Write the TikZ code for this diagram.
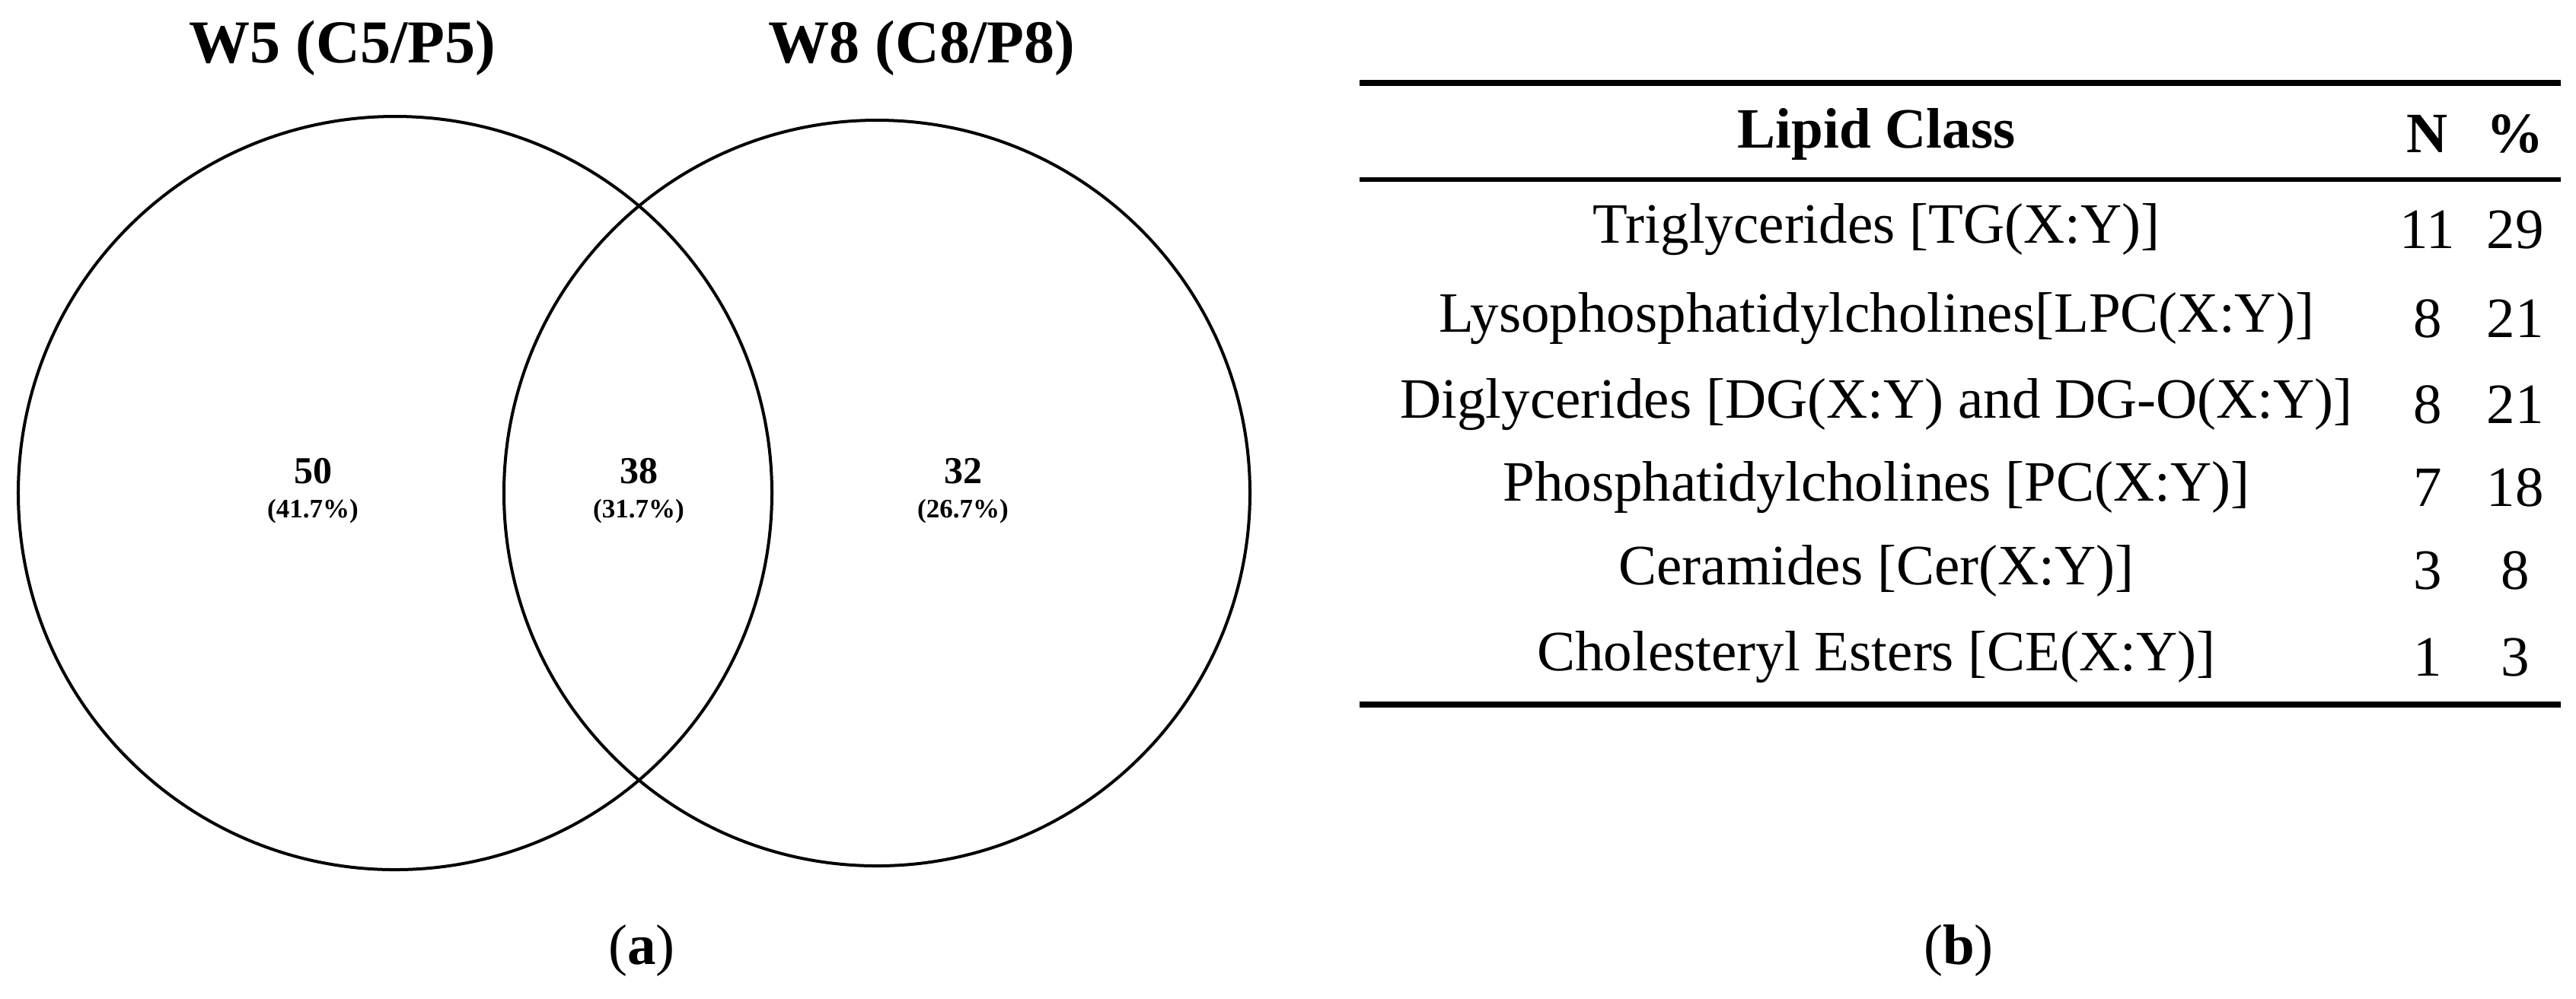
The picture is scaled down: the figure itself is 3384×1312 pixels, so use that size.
\documentclass[tikz,border=0pt]{standalone}
\usepackage{fontspec}
\setmainfont{Liberation Serif}
\begin{document}
\begin{tikzpicture}[x=0.2pt,y=-0.2pt,
  venn/.style={draw=black,line width=0.8pt},
  ttl/.style={font=\fontsize{16}{18}\selectfont\bfseries},
  cnt/.style={font=\fontsize{10}{12}\selectfont\bfseries,align=center},
  row/.style={font=\fontsize{15}{18}\selectfont},
  rulethick/.style={line width=1.6pt}]
\useasboundingbox (0,0) rectangle (3384,1312);
\draw[venn] (519,648) circle[radius=99pt];
\draw[venn] (1152,648) circle[radius=98pt];
\node[ttl] (t1) at (450,63) {W5 (C5/P5)};
\node[ttl] (t2) at (1211,63) {W8 (C8/P8)};
\node[cnt] (n1) at (411,645) {50\\[-3pt]{\fontsize{7}{8}\selectfont (41.7\%)}};
\node[cnt] (n2) at (839,645) {38\\[-3pt]{\fontsize{7}{8}\selectfont (31.7\%)}};
\node[cnt] (n3) at (1265,645) {32\\[-3pt]{\fontsize{7}{8}\selectfont (26.7\%)}};
\node[row] (la) at (843,1249) {(\textbf{a})};
\node[row] (lb) at (2573,1249) {(\textbf{b})};
\draw[rulethick] (1786,109) -- (3364,109);
\draw[line width=1.2pt] (1786,236) -- (3364,236);
\draw[rulethick] (1786,926) -- (3364,926);
\node[row,font=\fontsize{15}{18}\selectfont\bfseries] (h1) at (2465,176) {Lipid Class};
\node[row,font=\fontsize{15}{18}\selectfont\bfseries] (h2) at (3189,176) {N};
\node[row,font=\fontsize{15}{18}\selectfont\bfseries] (h3) at (3304,176) {\%};
\foreach \y/\c/\n/\p [count=\i] in {302/{Triglycerides [TG(X:Y)]}/11/29,
  419/{Lysophosphatidylcholines[LPC(X:Y)]}/8/21,
  532/{Diglycerides [DG(X:Y) and DG-O(X:Y)]}/8/21,
  641/{Phosphatidylcholines [PC(X:Y)]}/7/18,
  750/{Ceramides [Cer(X:Y)]}/3/8,
  864/{Cholesteryl Esters [CE(X:Y)]}/1/3}{
  \node[row] (c\i) at (2465,\y) {\c};
  \node[row] (nn\i) at (3189,\y) {\n};
  \node[row] (pp\i) at (3304,\y) {\p};
}
\end{tikzpicture}
\end{document}
